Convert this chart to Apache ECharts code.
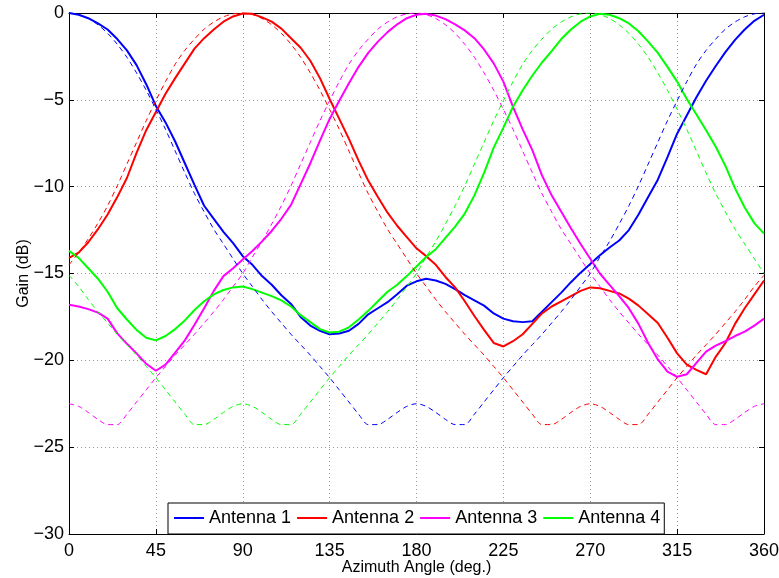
<!DOCTYPE html>
<html>
<head>
<meta charset="utf-8">
<script src="https://cdn.jsdelivr.net/npm/echarts@6/dist/echarts.min.js"></script>
<style>
html,body{margin:0;padding:0;background:#fff;}
#chart{width:779px;height:578px;}
</style>
</head>
<body>
<div id="chart"></div>
<script>
// Azimuth angles (deg.)
var angles = [0,5,10,15,20,25,30,35,40,45,50,55,60,65,70,75,80,85,90,95,100,105,110,115,120,125,130,135,140,145,150,155,160,165,170,175,180,185,190,195,200,205,210,215,220,225,230,235,240,245,250,255,260,265,270,275,280,285,290,295,300,305,310,315,320,325,330,335,340,345,350,355,360];

// Measured gain (dB), solid lines
var ant1Meas = [0,-0.1,-0.3,-0.6,-0.95,-1.5,-2.15,-3.0,-4.1,-5.35,-6.3,-7.4,-8.65,-9.9,-11.1,-11.85,-12.6,-13.25,-14.0,-14.5,-15.15,-15.65,-16.25,-16.75,-17.5,-18.0,-18.3,-18.5,-18.45,-18.3,-17.9,-17.35,-17.0,-16.65,-16.2,-15.7,-15.45,-15.3,-15.4,-15.6,-15.9,-16.25,-16.55,-16.85,-17.3,-17.6,-17.75,-17.8,-17.75,-17.2,-16.65,-16.1,-15.5,-14.95,-14.45,-13.95,-13.5,-13.1,-12.5,-11.6,-10.6,-9.6,-8.3,-6.95,-5.9,-4.85,-3.9,-3.05,-2.25,-1.55,-0.95,-0.45,-0.1];
var ant2Meas = [-14.1,-13.8,-13.2,-12.45,-11.6,-10.6,-9.5,-8.05,-6.75,-5.7,-4.65,-3.75,-2.9,-2.05,-1.45,-0.95,-0.5,-0.2,-0.03,-0.05,-0.25,-0.5,-0.9,-1.45,-2.0,-2.75,-3.75,-4.95,-6.1,-7.25,-8.5,-9.65,-10.6,-11.5,-12.25,-12.9,-13.55,-14.0,-14.5,-15.2,-15.8,-16.6,-17.45,-18.25,-19.0,-19.2,-18.9,-18.5,-17.9,-17.3,-16.9,-16.6,-16.3,-16.0,-15.8,-15.85,-16.0,-16.15,-16.45,-16.85,-17.35,-17.85,-18.7,-19.6,-20.25,-20.55,-20.8,-19.8,-19.0,-17.9,-17.0,-16.2,-15.4];
var ant3Meas = [-16.8,-16.9,-17.05,-17.25,-17.6,-18.45,-19.05,-19.6,-20.2,-20.6,-20.25,-19.55,-18.85,-17.95,-17.0,-16.0,-15.15,-14.7,-14.2,-13.7,-13.15,-12.55,-11.85,-11.05,-9.85,-8.65,-7.35,-6.1,-5.05,-4.05,-3.1,-2.3,-1.65,-1.1,-0.65,-0.3,-0.1,-0.05,-0.15,-0.35,-0.65,-1.0,-1.45,-2.1,-2.9,-3.95,-5.4,-6.7,-7.9,-9.35,-10.5,-11.45,-12.4,-13.3,-14.15,-15.0,-15.65,-16.3,-17.0,-17.9,-19.0,-19.95,-20.65,-20.95,-20.8,-20.15,-19.5,-19.15,-18.9,-18.6,-18.35,-18.0,-17.6];
var ant4Meas = [-13.7,-14.1,-14.7,-15.3,-16.05,-17.0,-17.65,-18.25,-18.7,-18.85,-18.6,-18.2,-17.7,-17.1,-16.6,-16.2,-15.95,-15.8,-15.75,-15.9,-16.1,-16.3,-16.55,-16.9,-17.4,-17.8,-18.2,-18.4,-18.35,-18.1,-17.65,-17.15,-16.6,-16.05,-15.65,-15.15,-14.6,-14.05,-13.6,-12.95,-12.3,-11.55,-10.5,-9.2,-7.75,-6.6,-5.4,-4.45,-3.6,-2.85,-2.2,-1.5,-0.95,-0.5,-0.2,-0.05,-0.1,-0.3,-0.6,-1.05,-1.65,-2.3,-3.1,-3.95,-4.95,-5.85,-6.75,-7.7,-8.8,-10.1,-11.2,-12.1,-12.7];

// Theoretical gain (dB), dashed lines
var ant1Theo = [0,-0.09,-0.32,-0.68,-1.17,-1.8,-2.55,-3.45,-4.45,-5.55,-6.7,-7.95,-9.2,-10.4,-11.45,-12.45,-13.3,-14.15,-15.0,-15.75,-16.5,-17.2,-17.85,-18.5,-19.1,-19.7,-20.35,-21.0,-21.7,-22.4,-23.1,-23.7,-23.7,-23.4,-23.0,-22.65,-22.5,-22.65,-23.0,-23.4,-23.7,-23.7,-23.1,-22.4,-21.7,-21.0,-20.35,-19.7,-19.1,-18.5,-17.85,-17.2,-16.5,-15.75,-15.0,-14.05,-13.15,-12.15,-11.1,-9.95,-8.7,-7.45,-6.2,-5.05,-3.95,-2.95,-2.15,-1.5,-0.93,-0.52,-0.22,-0.05,0];
var ant2Theo = [-14.5,-13.8,-13.0,-12.1,-11.1,-9.95,-8.7,-7.45,-6.2,-5.05,-3.95,-2.95,-2.15,-1.5,-0.93,-0.52,-0.22,-0.05,0,-0.09,-0.32,-0.68,-1.17,-1.8,-2.55,-3.45,-4.45,-5.55,-6.7,-7.95,-9.2,-10.4,-11.45,-12.45,-13.3,-14.15,-15.0,-15.75,-16.5,-17.2,-17.85,-18.5,-19.1,-19.7,-20.35,-21.0,-21.7,-22.4,-23.1,-23.7,-23.7,-23.4,-23.0,-22.65,-22.5,-22.65,-23.0,-23.4,-23.7,-23.7,-23.1,-22.4,-21.7,-21.0,-20.35,-19.7,-19.1,-18.5,-17.85,-17.2,-16.5,-15.75,-15.1];
var ant3Theo = [-22.5,-22.65,-23.0,-23.4,-23.7,-23.7,-23.1,-22.4,-21.7,-21.0,-20.35,-19.7,-19.1,-18.5,-17.85,-17.2,-16.5,-15.75,-15.0,-14.05,-13.15,-12.15,-11.1,-9.95,-8.7,-7.45,-6.2,-5.05,-3.95,-2.95,-2.15,-1.5,-0.93,-0.52,-0.22,-0.05,0,-0.09,-0.32,-0.68,-1.17,-1.8,-2.55,-3.45,-4.45,-5.55,-6.7,-7.95,-9.2,-10.4,-11.45,-12.45,-13.3,-14.15,-15.0,-15.75,-16.5,-17.2,-17.85,-18.5,-19.1,-19.7,-20.35,-21.0,-21.7,-22.4,-23.1,-23.7,-23.7,-23.4,-23.0,-22.65,-22.5];
var ant4Theo = [-15.1,-15.75,-16.5,-17.2,-17.85,-18.5,-19.1,-19.7,-20.35,-21.0,-21.7,-22.4,-23.1,-23.7,-23.7,-23.4,-23.0,-22.65,-22.5,-22.65,-23.0,-23.4,-23.7,-23.7,-23.1,-22.4,-21.7,-21.0,-20.35,-19.7,-19.1,-18.5,-17.85,-17.2,-16.5,-15.75,-15.0,-14.05,-13.15,-12.15,-11.1,-9.95,-8.7,-7.45,-6.2,-5.05,-3.95,-2.95,-2.15,-1.5,-0.93,-0.52,-0.22,-0.05,0,-0.09,-0.32,-0.68,-1.17,-1.8,-2.55,-3.45,-4.45,-5.55,-6.7,-7.95,-9.2,-10.4,-11.45,-12.45,-13.3,-14.15,-15.0];

var seriesNames = ['Antenna 1','Antenna 2','Antenna 3','Antenna 4'];
var seriesColors = ['#0000ff','#ff0000','#ff00ff','#00ff00'];
var measured = [ant1Meas, ant2Meas, ant3Meas, ant4Meas];
var theory = [ant1Theo, ant2Theo, ant3Theo, ant4Theo];

var xTitle = 'Azimuth Angle (deg.)';
var yTitle = 'Gain (dB)';

function pairs(vals){ return angles.map(function(a,i){ return [a, vals[i]]; }); }
function minusFmt(v){ return String(v).replace('-', '\u2212'); }

var FONT = 'Liberation Sans, Arial, Helvetica, sans-serif';
var series = [];
measured.forEach(function(vals, i){
  series.push({
    name: seriesNames[i], type: 'line', data: pairs(vals), symbol: 'none',
    color: seriesColors[i], lineStyle: {color: seriesColors[i], width: 2}, z: 3
  });
});
theory.forEach(function(vals, i){
  series.push({
    name: seriesNames[i] + ' (theory)', type: 'line', data: pairs(vals), symbol: 'none', smooth: 0.3,
    color: seriesColors[i], lineStyle: {color: seriesColors[i], width: 1, type: [5, 4]}, z: 4
  });
});

var axisCommon = {
  axisLine: {show: true, onZero: false, lineStyle: {color: '#000', width: 1}},
  axisTick: {show: true, inside: true, length: 5, lineStyle: {color: '#000'}}
};

var chart = echarts.init(document.getElementById('chart'), null, {renderer: 'canvas'});
chart.setOption({
  animation: false,
  backgroundColor: '#fff',
  grid: {left: 69, right: 15, top: 13, bottom: 44, outerBoundsMode: 'none', containLabel: false},
  legend: {
    data: seriesNames, left: 168, top: 503, icon: 'rect', itemWidth: 30, itemHeight: 2, itemGap: 6,
    padding: [6, 4, 7, 6], borderColor: '#000', borderWidth: 1, backgroundColor: '#fff',
    textStyle: {fontSize: 18, color: '#000', fontFamily: FONT}
  },
  xAxis: [
    Object.assign({
      type: 'value', min: 0, max: 360, interval: 45, position: 'bottom',
      axisLabel: {color: '#000', fontSize: 18, fontFamily: FONT, margin: 8},
      splitLine: {show: true, lineStyle: {color: '#9a9a9a', type: [1, 3], width: 1}},
      name: xTitle, nameLocation: 'middle', nameGap: 26, nameMoveOverlap: false,
      nameTextStyle: {color: '#000', fontSize: 16, fontFamily: FONT}
    }, axisCommon),
    Object.assign({
      type: 'value', min: 0, max: 360, interval: 45, position: 'top',
      axisLabel: {show: false}, splitLine: {show: false}
    }, axisCommon)
  ],
  yAxis: [
    Object.assign({
      type: 'value', min: -30, max: 0, interval: 5, position: 'left',
      axisLabel: {color: '#000', fontSize: 18, fontFamily: FONT, margin: 5, formatter: minusFmt},
      splitLine: {show: true, lineStyle: {color: '#9a9a9a', type: [1, 3], width: 1}},
      name: yTitle, nameLocation: 'middle', nameGap: 37, nameRotate: 90, nameMoveOverlap: false,
      nameTextStyle: {color: '#000', fontSize: 16, fontFamily: FONT}
    }, axisCommon),
    Object.assign({
      type: 'value', min: -30, max: 0, interval: 5, position: 'right',
      axisLabel: {show: false}, splitLine: {show: false}
    }, axisCommon)
  ],
  series: series
});
</script>
</body>
</html>
